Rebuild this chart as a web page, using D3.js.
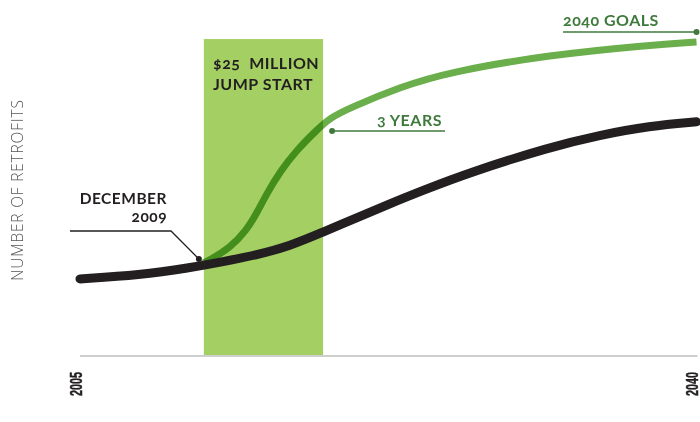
<!DOCTYPE html>
<html>
<head>
<meta charset="utf-8">
<script src="https://cdn.jsdelivr.net/npm/d3@7"></script>
<style>
  body { margin: 0; background: #fff; }
  svg { display: block; }
  .note { font-family: "Lato", "Open Sans", sans-serif; font-weight: 700; font-size: 16px; font-feature-settings: "onum"; letter-spacing: 0.5px; }
  .axis text { font-family: "Liberation Sans", Arial, sans-serif; font-weight: 700; font-size: 16px; fill: #231f20; stroke: #231f20; stroke-width: 0.5px; }
  .axis path { stroke: #cfcfcf; stroke-width: 2; }
</style>
</head>
<body>
<svg width="700" height="422"></svg>
<script>
// years on the x axis (schematic), values = share of the 2040 goal
var axisYears = [2005, 2040];

var currentYears  = [2005, 2008.4, 2011.24, 2013.11, 2015.04, 2016.91, 2018.78, 2020.71, 2022.59, 2024.46, 2027.12, 2031.66, 2034.5, 2037.33, 2040];
var currentValues = [24.4, 25.6, 27.9, 29.8, 32.0, 34.8, 39.2, 43.7, 48.2, 52.4, 58.1, 66.1, 69.9, 72.8, 74.1];

var goalYears  = [2011.98, 2012.37, 2013.51, 2014.47, 2015.04, 2015.61, 2016.35, 2017.31, 2018.44, 2019.18, 2020.32, 2023.15, 2025.99, 2031.66, 2037.33, 2040];
var goalValues = [29.4, 30.4, 34.2, 39.9, 45.3, 51.4, 58.3, 65.2, 71.5, 75.3, 78.5, 85.1, 89.9, 95.3, 98.4, 99.4];

var jumpStart = [2012.03, 2018.8];   // $25 million window
var jumpTop = 100.3;

var svg = d3.select("svg"),
    margin = {top: 40, right: 3, bottom: 66, left: 80},
    width = +svg.attr("width") - margin.left - margin.right,
    height = +svg.attr("height") - margin.top - margin.bottom;

var x = d3.scaleLinear().domain(axisYears).range([margin.left, margin.left + width - 0.5]);
var y = d3.scaleLinear().domain([0, 100]).range([margin.top + height, margin.top]);

var current = currentYears.map(function(d, i) { return [d, currentValues[i]]; });
var goal = goalYears.map(function(d, i) { return [d, goalValues[i]]; });

var line = d3.line()
    .x(function(d) { return x(d[0]); })
    .y(function(d) { return y(d[1]); })
    .curve(d3.curveBasis);

// funding window
svg.append("rect")
    .attr("x", x(jumpStart[0]))
    .attr("y", y(jumpTop))
    .attr("width", x(jumpStart[1]) - x(jumpStart[0]))
    .attr("height", y(0) - y(jumpTop))
    .attr("fill", "#a4cf63");

// x axis
var xAxis = svg.append("g")
    .attr("class", "axis")
    .attr("transform", "translate(0," + y(0) + ")")
    .call(d3.axisBottom(x).tickValues(axisYears).tickSize(0).tickFormat(d3.format("d")));
xAxis.select(".domain").attr("d", "M" + x(2005) + ",0H" + (x(2040) + 1));
xAxis.selectAll("text")
    .attr("text-anchor", "end")
    .attr("x", -16)
    .attr("y", 0)
    .attr("dy", "0.36em")
    .attr("textLength", 24)
    .attr("lengthAdjust", "spacingAndGlyphs")
    .attr("transform", function(d) { return "translate(" + (d === 2040 ? -5 : -4) + ",0) rotate(-90)"; });

// y label
svg.append("text")
    .attr("transform", "translate(23," + 190 + ") rotate(-90)")
    .attr("text-anchor", "middle")
    .style("font-family", "'Open Sans', sans-serif")
    .style("font-weight", 300)
    .style("font-size", "15.5px")
    .style("letter-spacing", "0.8px")
    .attr("fill", "#555")
    .text("NUMBER OF RETROFITS");

// goal line (multiplied over the green window)
svg.append("path")
    .datum(goal)
    .attr("d", line)
    .attr("fill", "none")
    .attr("stroke", "#6aaf4b")
    .attr("stroke-width", 7)
    .style("mix-blend-mode", "multiply");

// current trend
svg.append("path")
    .datum(current)
    .attr("d", line)
    .attr("fill", "none")
    .attr("stroke", "#231f20")
    .attr("stroke-width", 9)
    .attr("stroke-linecap", "round");

// annotations
var dark = "#231f20", green = "#3f7a3c";

// December 2009
var dx = x(2011.75), dy = y(30.7);
svg.append("path")
    .attr("d", "M70,231H171L" + dx + "," + dy)
    .attr("fill", "none").attr("stroke", dark).attr("stroke-width", 1.3);
svg.append("circle").attr("cx", dx).attr("cy", dy).attr("r", 3).attr("fill", dark);
svg.append("text").attr("class", "note").attr("x", 167).attr("y", 204)
    .attr("text-anchor", "end").attr("fill", dark).style("font-size", "15.5px").text("DECEMBER");
svg.append("text").attr("class", "note").attr("x", 167).attr("y", 222)
    .attr("text-anchor", "end").attr("fill", dark).style("font-size", "15.5px").text("2009");

// $25 million
svg.append("text").attr("class", "note").attr("x", 213).attr("y", 69)
    .attr("fill", dark).attr("xml:space", "preserve").text("$25  MILLION");
svg.append("text").attr("class", "note").attr("x", 213).attr("y", 90)
    .attr("fill", dark).text("JUMP START");

// 3 years
var tx = x(jumpStart[1]) + 9, ty = 131;
svg.append("line").attr("x1", tx).attr("x2", 445).attr("y1", ty).attr("y2", ty)
    .attr("stroke", green).attr("stroke-width", 1.6);
svg.append("circle").attr("cx", tx).attr("cy", ty).attr("r", 3).attr("fill", green);
svg.append("text").attr("class", "note").attr("x", 442).attr("y", 126)
    .attr("text-anchor", "end").attr("fill", green).text("3 YEARS");

// 2040 goals
svg.append("line").attr("x1", 563).attr("x2", x(2040)).attr("y1", 32).attr("y2", 32)
    .attr("stroke", green).attr("stroke-width", 1.6);
svg.append("circle").attr("cx", x(2040)).attr("cy", 32).attr("r", 3).attr("fill", green);
svg.append("text").attr("class", "note").attr("x", 563).attr("y", 26)
    .attr("fill", green).text("2040 GOALS");
</script>
</body>
</html>
